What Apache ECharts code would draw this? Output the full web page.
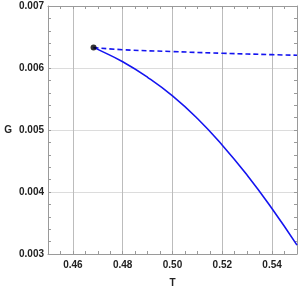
<!DOCTYPE html>
<html><head><meta charset="utf-8">
<script src="https://cdn.jsdelivr.net/npm/echarts@6/dist/echarts.min.js"></script>
<style>html,body{margin:0;padding:0;background:#fff}#c{width:300px;height:293px}</style>
</head><body><div id="c"></div>
<script>
const solidT = [0.4683, 0.47, 0.48, 0.49, 0.50, 0.51, 0.52, 0.53, 0.54, 0.55];
const solidG = [0.006329, 0.006300, 0.006100, 0.005850, 0.005550, 0.005185, 0.004755, 0.004270, 0.003730, 0.003143];
const dashT = [0.4683, 0.48, 0.50, 0.52, 0.54, 0.55];
const dashG = [0.006329, 0.006295, 0.006265, 0.006238, 0.006215, 0.006206];
const pointT = [0.4683];
const pointG = [0.006329];
const xTickLabels = ['0.46', '0.48', '0.50', '0.52', '0.54'];
const yTickLabels = ['0.003', '0.004', '0.005', '0.006', '0.007'];

const frame = '#9a9a9a';
const labelStyle = {fontFamily: 'Liberation Sans, Arial, sans-serif', fontWeight: 'bold', fontSize: 10, color: '#222'};
const pair = (a, b) => a.map((v, i) => [v, b[i]]);

const xCommon = {
  type: 'value', min: 0.45, max: 0.55, interval: 0.01,
  axisLine: {show: true, lineStyle: {color: frame, width: 1}},
  axisTick: {show: true, inside: true, length: 3, lineStyle: {color: frame}},
  minorTick: {show: true, splitNumber: 2, length: 3, lineStyle: {color: frame}},
};
const yCommon = {
  type: 'value', min: 0.003, max: 0.007, interval: 0.001,
  axisLine: {show: true, lineStyle: {color: frame, width: 1}},
  axisTick: {show: true, inside: true, length: 3, lineStyle: {color: frame}},
  minorTick: {show: true, splitNumber: 5, length: 3, lineStyle: {color: frame}},
};

const chart = echarts.init(document.getElementById('c'), null, {renderer: 'canvas'});
chart.setOption({
  animation: false,
  grid: {left: 48, right: 2, top: 6, bottom: 35, containLabel: false},
  xAxis: [
    Object.assign({}, xCommon, {
      position: 'bottom',
      name: 'T', nameLocation: 'middle', nameGap: 24,
      nameTextStyle: labelStyle,
      axisLabel: Object.assign({}, labelStyle, {margin: 6,
        formatter: v => { const s = v.toFixed(2); return xTickLabels.includes(s) ? s : ''; }}),
      splitLine: {show: true, lineStyle: {color: ['rgba(0,0,0,0)', '#bcbcbc'], width: 1}},
    }),
    Object.assign({}, xCommon, {position: 'top', axisLabel: {show: false}, splitLine: {show: false}})
  ],
  yAxis: [
    Object.assign({}, yCommon, {
      position: 'left',
      name: 'G', nameLocation: 'middle', nameGap: 36, nameRotate: 0,
      nameTextStyle: labelStyle,
      axisLabel: Object.assign({}, labelStyle, {margin: 4,
        formatter: v => { const s = v.toFixed(3); return yTickLabels.includes(s) ? s : ''; }}),
      splitLine: {show: true, lineStyle: {color: '#dcdcdc', width: 1}},
    }),
    Object.assign({}, yCommon, {position: 'right', axisLabel: {show: false}, splitLine: {show: false}})
  ],
  series: [
    {type: 'line', data: pair(solidT, solidG), smooth: true, symbol: 'none',
      lineStyle: {color: '#1414f0', width: 1.6}},
    {type: 'line', data: pair(dashT, dashG), smooth: true, symbol: 'none',
      lineStyle: {color: '#1414f0', width: 1.6, type: [5, 3]}},
    {type: 'scatter', data: pair(pointT, pointG), symbolSize: 6,
      itemStyle: {color: '#000'}, z: 5}
  ]
});
</script></body></html>
